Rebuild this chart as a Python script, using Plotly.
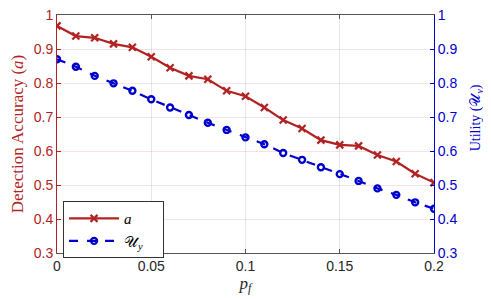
import plotly.graph_objects as go

pf = [0, 0.01, 0.02, 0.03, 0.04, 0.05, 0.06, 0.07, 0.08, 0.09, 0.10,
      0.11, 0.12, 0.13, 0.14, 0.15, 0.16, 0.17, 0.18, 0.19, 0.20]
accuracy = [0.968, 0.938, 0.933, 0.915, 0.905, 0.877, 0.845, 0.821, 0.811, 0.777, 0.761,
            0.728, 0.691, 0.666, 0.632, 0.618, 0.615, 0.588, 0.569, 0.533, 0.507]
utility = [0.870, 0.848, 0.821, 0.799, 0.777, 0.752, 0.728, 0.706, 0.683, 0.662, 0.640,
           0.620, 0.594, 0.574, 0.552, 0.532, 0.512, 0.490, 0.471, 0.449, 0.430]
y_ticks = [0.3, 0.4, 0.5, 0.6, 0.7, 0.8, 0.9, 1]
y_labels = ["0.3", "0.4", "0.5", "0.6", "0.7", "0.8", "0.9", "1"]
x_ticks = [0, 0.05, 0.1, 0.15, 0.2]
x_labels = ["0", "0.05", "0.1", "0.15", "0.2"]

RED = "#B22222"
BLUE = "#0000CC"
tick_font = dict(family="Liberation Sans, Arial", size=14)
serif = "Liberation Serif, DejaVu Serif, serif"

fig = go.Figure()
fig.add_trace(go.Scatter(
    x=pf, y=accuracy, name="<i>a</i>&nbsp;&nbsp;&nbsp;&nbsp;&nbsp;&nbsp;&nbsp;", mode="lines+markers",
    line=dict(color=RED, width=2.2),
    marker=dict(symbol="x-thin", size=7, line=dict(color=RED, width=2.2)),
    yaxis="y"))
fig.add_trace(go.Scatter(
    x=pf, y=utility, name="\U0001D4B0<sub><i>y</i></sub>", mode="lines+markers",
    line=dict(color=BLUE, width=2.2, dash="dash"),
    marker=dict(symbol="circle-open", size=6, line=dict(color=BLUE, width=2.4)),
    yaxis="y2"))

fig.update_layout(
    width=483, height=291,
    margin=dict(l=49, r=57, t=7, b=46, autoexpand=False),
    paper_bgcolor="white", plot_bgcolor="white",
    showlegend=True,
    legend=dict(x=0.016, y=0.218, xanchor="left", yanchor="top",
                bgcolor="white", bordercolor="#333333", borderwidth=1,
                font=dict(family=serif, size=15, color="black"),
                tracegroupgap=0, itemwidth=50),
    xaxis=dict(range=[0, 0.2], tickvals=x_ticks, ticktext=x_labels,
               tickfont=dict(color="#262626", **tick_font),
               ticklabeloverflow="allow",
               showgrid=True, gridcolor="#E6E6E6", gridwidth=1,
               showline=True, linecolor="#555555", linewidth=1, mirror="ticks",
               ticks="inside", ticklen=4, tickcolor="#555555",
               zeroline=False, automargin=False,
               title=dict(text="<i>p</i><sub><i>f</i></sub>",
                          font=dict(family=serif, size=17, color="#262626"),
                          standoff=2)),
    yaxis=dict(range=[0.3, 1], tickvals=y_ticks, ticktext=y_labels,
               tickfont=dict(color=RED, **tick_font),
               ticklabeloverflow="allow",
               showgrid=True, gridcolor="rgba(178,34,34,0.12)", gridwidth=1,
               showline=True, linecolor=RED, linewidth=1,
               ticks="inside", ticklen=4, tickcolor=RED,
               zeroline=False, automargin=False,
               title=dict(text="Detection Accuracy (<i>a</i>)",
                          font=dict(family=serif, size=17, color=RED),
                          standoff=6)),
    yaxis2=dict(range=[0.3, 1], overlaying="y", side="right",
                tickvals=y_ticks, ticktext=y_labels,
                tickfont=dict(color=BLUE, **tick_font),
                ticklabeloverflow="allow",
                showgrid=False,
                showline=True, linecolor=BLUE, linewidth=1,
                ticks="inside", ticklen=4, tickcolor=BLUE,
                zeroline=False, automargin=False),
    annotations=[dict(text="Utility (\U0001D4B0<sub><i>y</i></sub>)",
                      textangle=-90, xref="paper", yref="paper",
                      x=1.112, y=0.567, xanchor="center", yanchor="middle",
                      showarrow=False,
                      font=dict(family=serif, size=14, color=BLUE))],
)

fig.write_html("out.html")
